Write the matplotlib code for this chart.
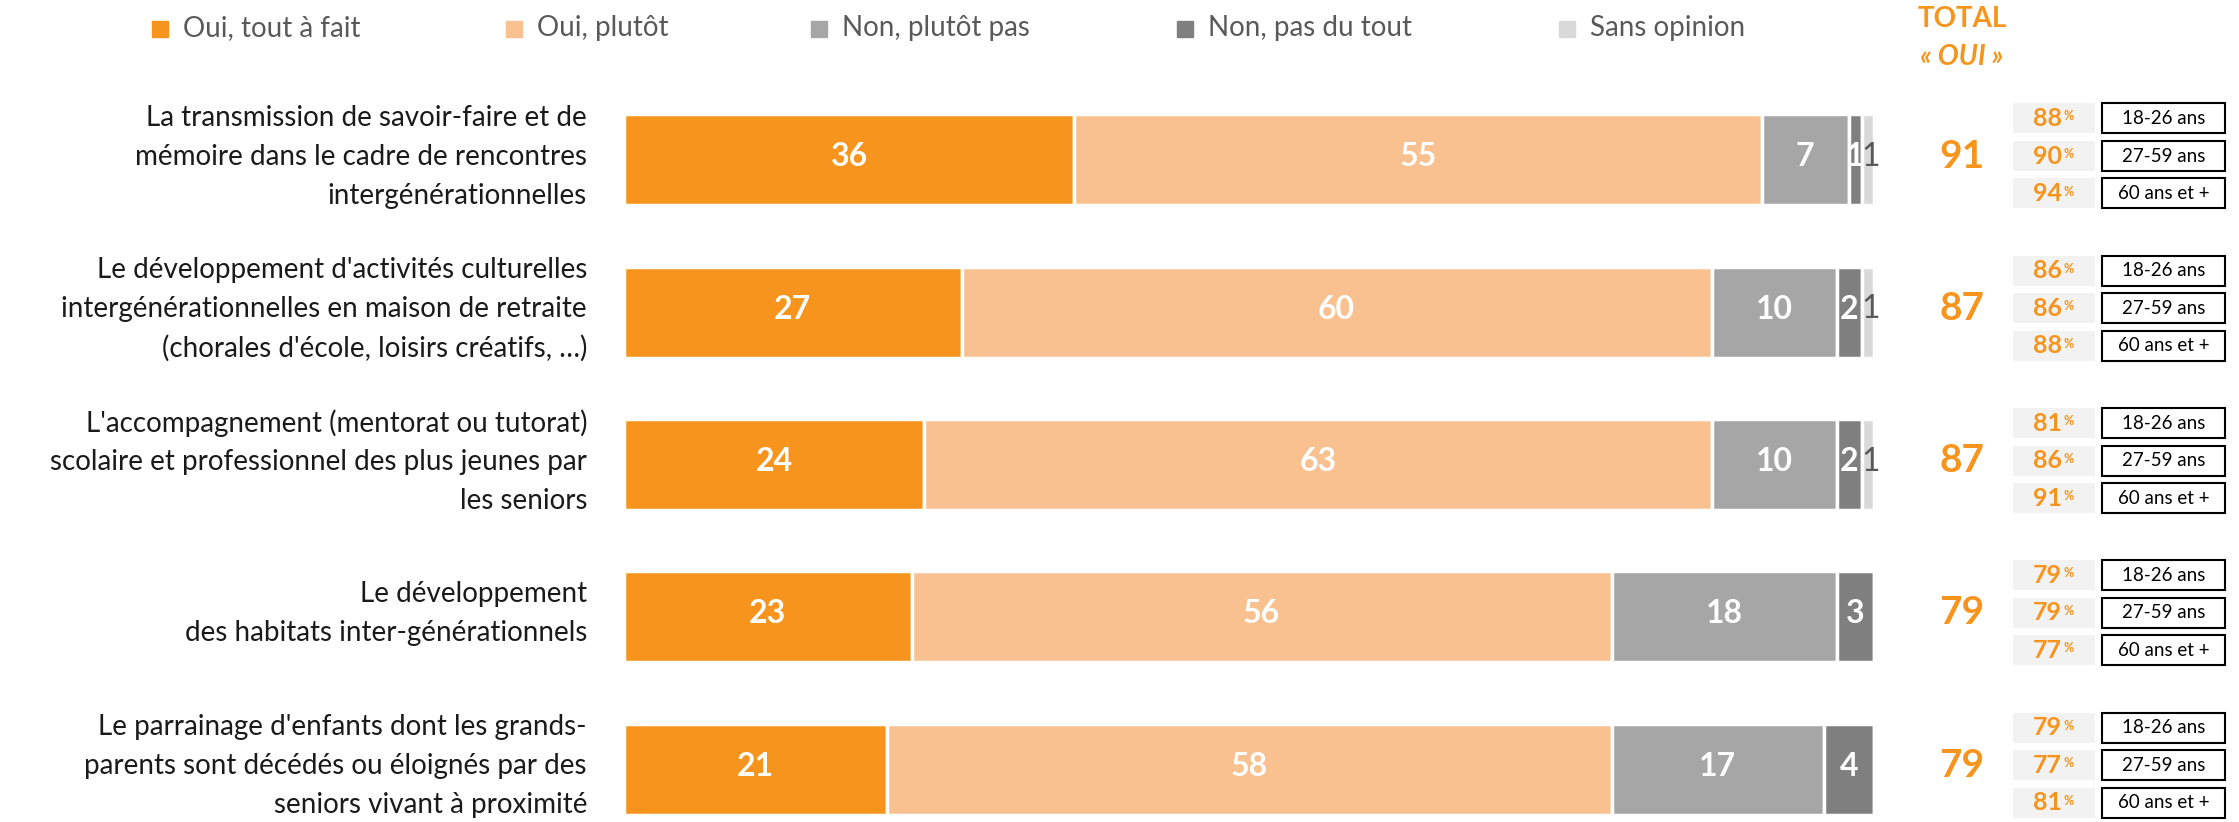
import matplotlib
matplotlib.use("Agg")
import matplotlib.pyplot as plt
from matplotlib.patches import Rectangle
import numpy as np

plt.rcParams['font.family'] = ['Lato', 'DejaVu Sans']

categories = [
    "La transmission de savoir-faire et de\nmémoire dans le cadre de rencontres\nintergénérationnelles",
    "Le développement d'activités culturelles\nintergénérationnelles en maison de retraite\n(chorales d'école, loisirs créatifs, …)",
    "L'accompagnement (mentorat ou tutorat)\nscolaire et professionnel des plus jeunes par\nles seniors",
    "Le développement\ndes habitats inter-générationnels",
    "Le parrainage d'enfants dont les grands-\nparents sont décédés ou éloignés par des\nseniors vivant à proximité",
]
series_names = ["Oui, tout à fait", "Oui, plutôt", "Non, plutôt pas", "Non, pas du tout", "Sans opinion"]
tout_a_fait = [36, 27, 24, 23, 21]
plutot = [55, 60, 63, 56, 58]
plutot_pas = [7, 10, 10, 18, 17]
pas_du_tout = [1, 2, 2, 3, 4]
sans_opinion = [1, 1, 1, 0, 0]
total_oui = [91, 87, 87, 79, 79]
age_groups = ["18-26 ans", "27-59 ans", "60 ans et +"]
oui_18_26 = [88, 86, 81, 79, 79]
oui_27_59 = [90, 86, 86, 79, 77]
oui_60_plus = [94, 88, 91, 77, 81]

colors = ['#F7941D', '#F9C190', '#A6A6A6', '#7F7F7F', '#D9D9D9']
orange = '#F7941D'

W, H = 2239, 822
fig = plt.figure(figsize=(W / 100, H / 100), dpi=100)

# layout overlay in pixel units
lay = fig.add_axes([0, 0, 1, 1])
lay.set_xlim(0, W)
lay.set_ylim(H, 0)
lay.axis('off')

bar_left_px, bar_right_px = 624, 1874
ax = fig.add_axes([bar_left_px / W, 0, (bar_right_px - bar_left_px) / W, 1])
ax.set_xlim(0, 100)
ax.set_ylim(H, 0)
ax.axis('off')

row_y = 160 + 152.25 * np.arange(len(categories))
bar_h = 91

series = [tout_a_fait, plutot, plutot_pas, pas_du_tout, sans_opinion]
left = np.zeros(len(categories))
for k, (vals, col) in enumerate(zip(series, colors)):
    vals = np.array(vals, dtype=float)
    ax.barh(row_y, vals, left=left, height=bar_h, color=col,
            edgecolor='white', linewidth=2.5)
    for i, v in enumerate(vals):
        if v > 0:
            if k < 4:
                ax.text(left[i] + v / 2, row_y[i] - 3, f"{int(v)}", ha='center', va='center',
                        color='white', fontsize=23, fontweight='bold')
            else:
                ax.text(left[i] + v / 2 + 0.25, row_y[i] - 3, f"{int(v)}", ha='center', va='center',
                        color='#595959', fontsize=23)
    left += vals

# row labels
for i, lab in enumerate(categories):
    lay.text(587, row_y[i] - 3, lab, ha='right', va='center', fontsize=20,
             color='#1A1A1A', linespacing=1.6)

# legend
leg_x = [152, 506, 811, 1177, 1559]
for x, name, col in zip(leg_x, series_names, colors):
    lay.add_patch(Rectangle((x, 21), 16, 16, color=col))
    lay.text(x + 31, 28, name, ha='left', va='center', fontsize=20, color='#595959')

# header
lay.text(1962, 19, "TOTAL", ha='center', va='center', fontsize=20,
         fontweight='bold', color=orange)
lay.text(1962, 57, "« OUI »", ha='center', va='center', fontsize=20,
         fontweight='bold', fontstyle='italic', color=orange)

# totals and age breakdown
age_vals = [oui_18_26, oui_27_59, oui_60_plus]
offsets = [-37.5, 0, 37.5]
for i in range(len(categories)):
    gy = row_y[i] - 4
    lay.text(1962, gy, f"{total_oui[i]}", ha='center', va='center',
             fontsize=28, fontweight='bold', color=orange)
    for j, off in enumerate(offsets):
        cy = gy + off
        lay.add_patch(Rectangle((2013, cy - 15), 82, 30, color='#F2F2F2', lw=0))
        lay.text(2062, cy, f"{age_vals[j][i]}", ha='right', va='center',
                 fontsize=18, fontweight='bold', color=orange)
        lay.text(2063, cy - 2, "%", ha='left', va='center',
                 fontsize=9, fontweight='bold', color=orange)
        lay.add_patch(Rectangle((2102, cy - 15), 123, 30, facecolor='white',
                                edgecolor='black', lw=1.5))
        lay.text(2163.5, cy, age_groups[j], ha='center', va='center',
                 fontsize=13.5, color='black')

fig.savefig("out.png", dpi=100)
